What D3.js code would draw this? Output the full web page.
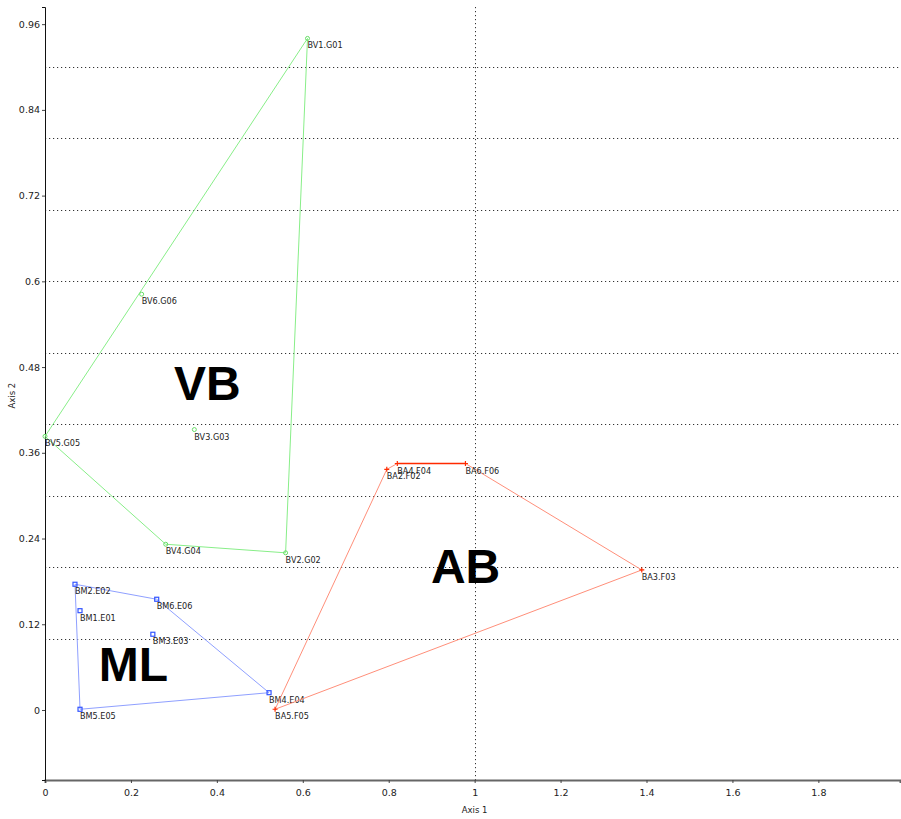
<!DOCTYPE html>
<html>
<head>
<meta charset="utf-8">
<script src="https://cdn.jsdelivr.net/npm/d3@7"></script>
<style>
  body { margin: 0; background: #fff; }
  svg { display: block; }
  .pt-label { font-family: "DejaVu Sans Condensed", "DejaVu Sans", sans-serif; font-size: 9px; fill: #222; }
  .tick text { font-family: "DejaVu Sans", sans-serif; font-size: 9.5px; fill: #222; }
  .axis-title { font-family: "DejaVu Sans", sans-serif; font-size: 8.5px; fill: #222; }
  .group-title { font-family: "Liberation Sans", Arial, sans-serif; font-weight: bold; font-size: 48px; fill: #000; }
</style>
</head>
<body>
<svg id="chart"></svg>
<script>
// point names and coordinates (axis 1, axis 2)
const mlNames = ["BM1.E01", "BM2.E02", "BM3.E03", "BM4.E04", "BM5.E05", "BM6.E06"];
const mlX = [0.0815, 0.0698, 0.251, 0.5215, 0.0815, 0.260];
const mlY = [0.139, 0.176, 0.106, 0.0242, 0.001, 0.155];
const mlHull = ["BM2.E02", "BM6.E06", "BM4.E04", "BM5.E05"];

const abNames = ["BA2.F02", "BA3.F03", "BA4.F04", "BA5.F05", "BA6.F06"];
const abX = [0.7955, 1.389, 0.820, 0.5355, 0.9786];
const abY = [0.3368, 0.196, 0.345, 0.001, 0.345];
const abHull = ["BA5.F05", "BA2.F02", "BA4.F04", "BA6.F06", "BA3.F03"];
// edge drawn heavier in the original
const abBold = ["BA4.F04", "BA6.F06"];

const vbNames = ["BV1.G01", "BV2.G02", "BV3.G03", "BV4.G04", "BV5.G05", "BV6.G06"];
const vbX = [0.611, 0.560, 0.3476, 0.281, 0.0, 0.225];
const vbY = [0.940, 0.220, 0.3925, 0.232, 0.383, 0.582];
const vbHull = ["BV5.G05", "BV1.G01", "BV2.G02", "BV4.G04"];

// big group titles, placed at data coordinates (centre, baseline)
const groupTitles = ["VB", "AB", "ML"];
const groupTitleX = [0.378, 0.979, 0.206];
const groupTitleY = [0.434, 0.178, 0.041];

const xTicks = [0, 0.2, 0.4, 0.6, 0.8, 1, 1.2, 1.4, 1.6, 1.8];
const yTicks = [0, 0.12, 0.24, 0.36, 0.48, 0.6, 0.72, 0.84, 0.96];
const yGrid = [0.1, 0.2, 0.3, 0.4, 0.5, 0.6, 0.7, 0.8, 0.9];
const xGrid = [1];

const W = 901, H = 819;
const margin = { top: 7, right: 1, bottom: 39, left: 45 };

const svg = d3.select('#chart').attr('width', W).attr('height', H);

const x = d3.scaleLinear().domain([0, 1.99]).range([margin.left, W - margin.right]);
const y = d3.scaleLinear().domain([-0.098, 0.984]).range([H - margin.bottom, margin.top]);

// grid
svg.append('g').selectAll('line').data(yGrid).join('line')
  .attr('x1', margin.left).attr('x2', W - margin.right)
  .attr('y1', d => Math.round(y(d)) + 0.5).attr('y2', d => Math.round(y(d)) + 0.5)
  .attr('stroke', '#333').attr('stroke-dasharray', '1.2,2.8');
svg.append('g').selectAll('line').data(xGrid).join('line')
  .attr('y1', margin.top).attr('y2', H - margin.bottom)
  .attr('x1', d => Math.round(x(d)) + 0.5).attr('x2', d => Math.round(x(d)) + 0.5)
  .attr('stroke', '#333').attr('stroke-dasharray', '1.2,2.8');

// axes
const xAxis = svg.append('g')
  .attr('transform', `translate(0,${H - margin.bottom})`)
  .call(d3.axisBottom(x).tickValues(xTicks).tickSize(3).tickPadding(6).tickFormat(d3.format('~g')));
xAxis.select('.domain').attr('stroke', '#666').attr('stroke-width', 2);
xAxis.selectAll('.tick line').attr('stroke', '#444');

const yAxis = svg.append('g')
  .attr('transform', `translate(${margin.left},0)`)
  .call(d3.axisLeft(y).tickValues(yTicks).tickSize(3).tickPadding(2).tickFormat(d3.format('~g')));
yAxis.select('.domain').attr('stroke', '#111');
yAxis.selectAll('.tick line').attr('stroke', '#444');

svg.append('text').attr('class', 'axis-title')
  .attr('x', x(1)).attr('y', H - 6).attr('text-anchor', 'middle').text('Axis 1');
svg.append('text').attr('class', 'axis-title')
  .attr('transform', `translate(15,${y(0.44)}) rotate(-90)`)
  .attr('text-anchor', 'middle').text('Axis 2');

// groups
const groups = [
  { names: mlNames, xs: mlX, ys: mlY, hull: mlHull, bold: null, color: '#3355ff', line: '#8fa0ff', marker: 'square' },
  { names: abNames, xs: abX, ys: abY, hull: abHull, bold: abBold, color: '#ff2a00', line: '#ff8f7a', marker: 'plus' },
  { names: vbNames, xs: vbX, ys: vbY, hull: vbHull, bold: null, color: '#66dd66', line: '#88ee88', marker: 'circle' }
];

const line = d3.line().x(d => x(d.x)).y(d => y(d.y));

groups.forEach(g => {
  const pts = g.names.map((n, i) => ({ name: n, x: g.xs[i], y: g.ys[i] }));
  const byName = new Map(pts.map(p => [p.name, p]));
  const hullPts = g.hull.map(n => byName.get(n));

  svg.append('path')
    .datum(hullPts)
    .attr('d', line.curve(d3.curveLinearClosed))
    .attr('fill', 'none')
    .attr('stroke', g.line)
    .attr('stroke-width', 1);

  if (g.bold) {
    svg.append('path')
      .datum(g.bold.map(n => byName.get(n)))
      .attr('d', line.curve(d3.curveLinear))
      .attr('fill', 'none')
      .attr('stroke', g.color)
      .attr('stroke-width', 1.6);
  }

  const m = svg.append('g').selectAll('g').data(pts).join('g')
    .attr('transform', d => `translate(${x(d.x)},${y(d.y)})`);

  if (g.marker === 'square') {
    m.append('rect').attr('x', -2).attr('y', -2).attr('width', 4).attr('height', 4)
      .attr('fill', 'none').attr('stroke', g.color).attr('stroke-width', 1.2);
  } else if (g.marker === 'plus') {
    m.append('path').attr('d', 'M-2.5,0H2.5M0,-2.5V2.5')
      .attr('stroke', g.color).attr('stroke-width', 1.2);
  } else {
    m.append('circle').attr('r', 2).attr('fill', 'none')
      .attr('stroke', g.color).attr('stroke-width', 1);
  }

  m.append('text').attr('class', 'pt-label')
    .attr('x', 0).attr('y', 10)
    .text(d => d.name);
});

// big group titles
svg.append('g').selectAll('text')
  .data(groupTitles.map((t, i) => ({ t, x: groupTitleX[i], y: groupTitleY[i] })))
  .join('text')
  .attr('class', 'group-title')
  .attr('x', d => x(d.x)).attr('y', d => y(d.y))
  .attr('text-anchor', 'middle')
  .text(d => d.t);
</script>
</body>
</html>
